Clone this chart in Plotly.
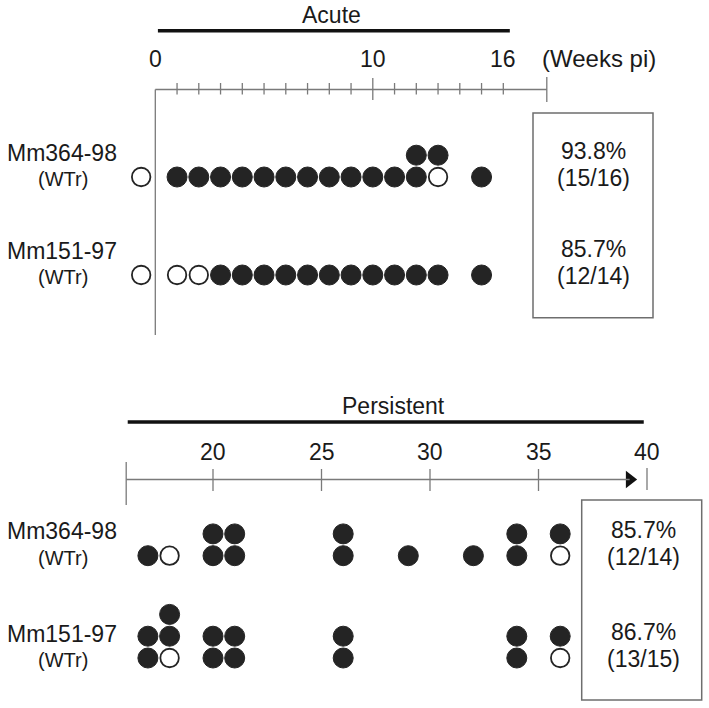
import plotly.graph_objects as go

# ---------------- data ----------------
# Each sample: week post infection and results stacked bottom->top
# "+" = positive (filled), "o" = negative (open). Baseline sample drawn just left of week 0.
ANIMALS = ["Mm364-98", "Mm151-97"]
SUBLABEL = "(WTr)"

ACUTE_364_WEEKS = [-0.65, 1, 2, 3, 4, 5, 6, 7, 8, 9, 10, 11, 12, 13, 15]
ACUTE_364_RES = ["o", "+", "+", "+", "+", "+", "+", "+", "+", "+", "+", "+", "++", "o+", "+"]
ACUTE_151_WEEKS = [-0.65, 1, 2, 3, 4, 5, 6, 7, 8, 9, 10, 11, 12, 13, 15]
ACUTE_151_RES = ["o", "o", "o", "+", "+", "+", "+", "+", "+", "+", "+", "+", "+", "+", "+"]

PERS_364_WEEKS = [17, 18, 20, 21, 26, 29, 32, 34, 36]
PERS_364_RES = ["+", "o", "++", "++", "++", "+", "+", "++", "o+"]
PERS_151_WEEKS = [17, 18, 20, 21, 26, 34, 36]
PERS_151_RES = ["++", "o++", "++", "++", "++", "++", "o+"]

ACUTE_PCT = ["93.8%", "85.7%"]
ACUTE_FRAC = ["(15/16)", "(12/14)"]
PERS_PCT = ["85.7%", "86.7%"]
PERS_FRAC = ["(12/14)", "(13/15)"]

ACUTE_TICKS = list(range(1, 17))
ACUTE_TICK_LABELS = [0, 10, 16]
ACUTE_END = 18
PERS_TICKS = [20, 25, 30, 35]
PERS_TICK_LABELS = [20, 25, 30, 35, 40]
PERS_START, PERS_END = 16, 40

# ---------------- layout constants ----------------
W, H = 709, 708
FONT = "Liberation Sans, Arial, sans-serif"
TXT = "#1a1a1a"
DOT = "#242424"
AX = "#7a7a7a"
FS = 23
FS_SMALL = 20

TOP_W0, TOP_PXW = 155.3, 21.75   # pixel of week 0, px per week (top axis)
BOT_W20, BOT_PXW = 213.0, 21.7   # pixel of week 20, px per week (bottom axis)
top_range = [-TOP_W0 / TOP_PXW, (W - TOP_W0) / TOP_PXW]
bot_range = [20 - BOT_W20 / BOT_PXW, 20 + (W - BOT_W20) / BOT_PXW]

STACK = 21.8
TOP_ROWS_Y = [177, 275]
BOT_ROWS_Y = [555.7, 658]

fig = go.Figure()


def add_dots(weeks, res, base_y, xaxis):
    fx, fy, ox, oy = [], [], [], []
    for wk, r in zip(weeks, res):
        for lvl, c in enumerate(r):
            y = base_y - lvl * STACK
            if c == "+":
                fx.append(wk); fy.append(y)
            else:
                ox.append(wk); oy.append(y)
    fig.add_trace(go.Scatter(x=fx, y=fy, mode="markers", xaxis=xaxis, yaxis="y",
                             marker=dict(size=20, color=DOT, line=dict(width=1, color=DOT)),
                             showlegend=False, hoverinfo="skip"))
    fig.add_trace(go.Scatter(x=ox, y=oy, mode="markers", xaxis=xaxis, yaxis="y",
                             marker=dict(size=18.5, color="white", line=dict(width=1.8, color=DOT)),
                             showlegend=False, hoverinfo="skip"))


add_dots(ACUTE_364_WEEKS, ACUTE_364_RES, TOP_ROWS_Y[0], "x")
add_dots(ACUTE_151_WEEKS, ACUTE_151_RES, TOP_ROWS_Y[1], "x")
add_dots(PERS_364_WEEKS, PERS_364_RES, BOT_ROWS_Y[0], "x2")
add_dots(PERS_151_WEEKS, PERS_151_RES, BOT_ROWS_Y[1], "x2")

shapes = []
ann = []


def line(xref, x0, x1, y0, y1, color=AX, width=1.3):
    shapes.append(dict(type="line", xref=xref, yref="y", x0=x0, x1=x1, y0=y0, y1=y1,
                       line=dict(color=color, width=width)))


def text(xref, x, y, s, size=FS):
    ann.append(dict(xref=xref, yref="y", x=x, y=y, text=s, showarrow=False,
                    xanchor="center", yanchor="middle",
                    font=dict(family=FONT, size=size, color=TXT)))


# ---- top (acute) axis ----
TOP_AX_Y = 89.5
line("x", 0, ACUTE_END, TOP_AX_Y, TOP_AX_Y)
line("x", 0, 0, TOP_AX_Y, 335)
for t in ACUTE_TICKS:
    if t == 10:
        line("x", t, t, 78, 100)
    else:
        line("x", t, t, 83, 94.5)
line("x", ACUTE_END, ACUTE_END, 77, 102)
for t in ACUTE_TICK_LABELS:
    text("x", t, 58.5, str(t))
text("x", 20.4, 58.5, "(Weeks pi)", size=24)
line("x", 0.12, 16.3, 30.7, 30.7, color="#111", width=3.5)
text("x", 8.1, 15, "Acute")

# ---- bottom (persistent) axis ----
BOT_AX_Y = 479.5
line("x2", PERS_START, 39.2, BOT_AX_Y, BOT_AX_Y)
line("x2", PERS_START, PERS_START, 462, 505)
for t in PERS_TICKS:
    line("x2", t, t, 469, 491)
line("x2", PERS_END, PERS_END, 468, 490)
for t in PERS_TICK_LABELS:
    text("x2", t, 452, str(t))
line("x2", 16.07, 39.85, 422, 422, color="#111", width=3.5)
text("x2", 28.34, 406, "Persistent")
fig.add_trace(go.Scatter(x=[39.2], y=[BOT_AX_Y], mode="markers", xaxis="x2", yaxis="y",
                         marker=dict(symbol="triangle-right", size=15, color="#111"),
                         showlegend=False, hoverinfo="skip"))

# ---- row labels ----
for rows in (TOP_ROWS_Y, BOT_ROWS_Y):
    for name, ry in zip(ANIMALS, rows):
        ann.append(dict(xref="paper", yref="y", x=62 / W, y=ry - 24.5, text=name, showarrow=False,
                        xanchor="center", yanchor="middle",
                        font=dict(family=FONT, size=FS, color=TXT)))
        ann.append(dict(xref="paper", yref="y", x=63 / W, y=ry + 2, text=SUBLABEL, showarrow=False,
                        xanchor="center", yanchor="middle",
                        font=dict(family=FONT, size=FS_SMALL, color=TXT)))

# ---- result boxes ----
def box(x0, x1, y0, y1, cx, rows, pct, frac):
    shapes.append(dict(type="rect", xref="paper", yref="y", x0=x0 / W, x1=x1 / W, y0=y0, y1=y1,
                       line=dict(color="#6e6e6e", width=1.5)))
    for ry, p, f in zip(rows, pct, frac):
        ann.append(dict(xref="paper", yref="y", x=cx / W, y=ry - 26, text=p, showarrow=False,
                        xanchor="center", yanchor="middle", font=dict(family=FONT, size=FS, color=TXT)))
        ann.append(dict(xref="paper", yref="y", x=cx / W, y=ry + 1, text=f, showarrow=False,
                        xanchor="center", yanchor="middle", font=dict(family=FONT, size=FS, color=TXT)))


box(533, 653, 113, 317.7, 593, TOP_ROWS_Y, ACUTE_PCT, ACUTE_FRAC)
box(581.7, 701.7, 500, 700, 643, BOT_ROWS_Y, PERS_PCT, PERS_FRAC)

fig.update_layout(
    width=W, height=H, margin=dict(l=0, r=0, t=0, b=0),
    paper_bgcolor="white", plot_bgcolor="white",
    shapes=shapes, annotations=ann, showlegend=False, hovermode=False,
    xaxis=dict(range=top_range, visible=False, domain=[0, 1], fixedrange=True),
    xaxis2=dict(range=bot_range, visible=False, overlaying="x", domain=[0, 1], fixedrange=True),
    yaxis=dict(range=[H, 0], visible=False, domain=[0, 1], fixedrange=True),
)

fig.write_html("out.html", config={"displayModeBar": False, "staticPlot": True},
               post_script="document.body.style.margin='0';document.body.style.overflow='hidden';")
